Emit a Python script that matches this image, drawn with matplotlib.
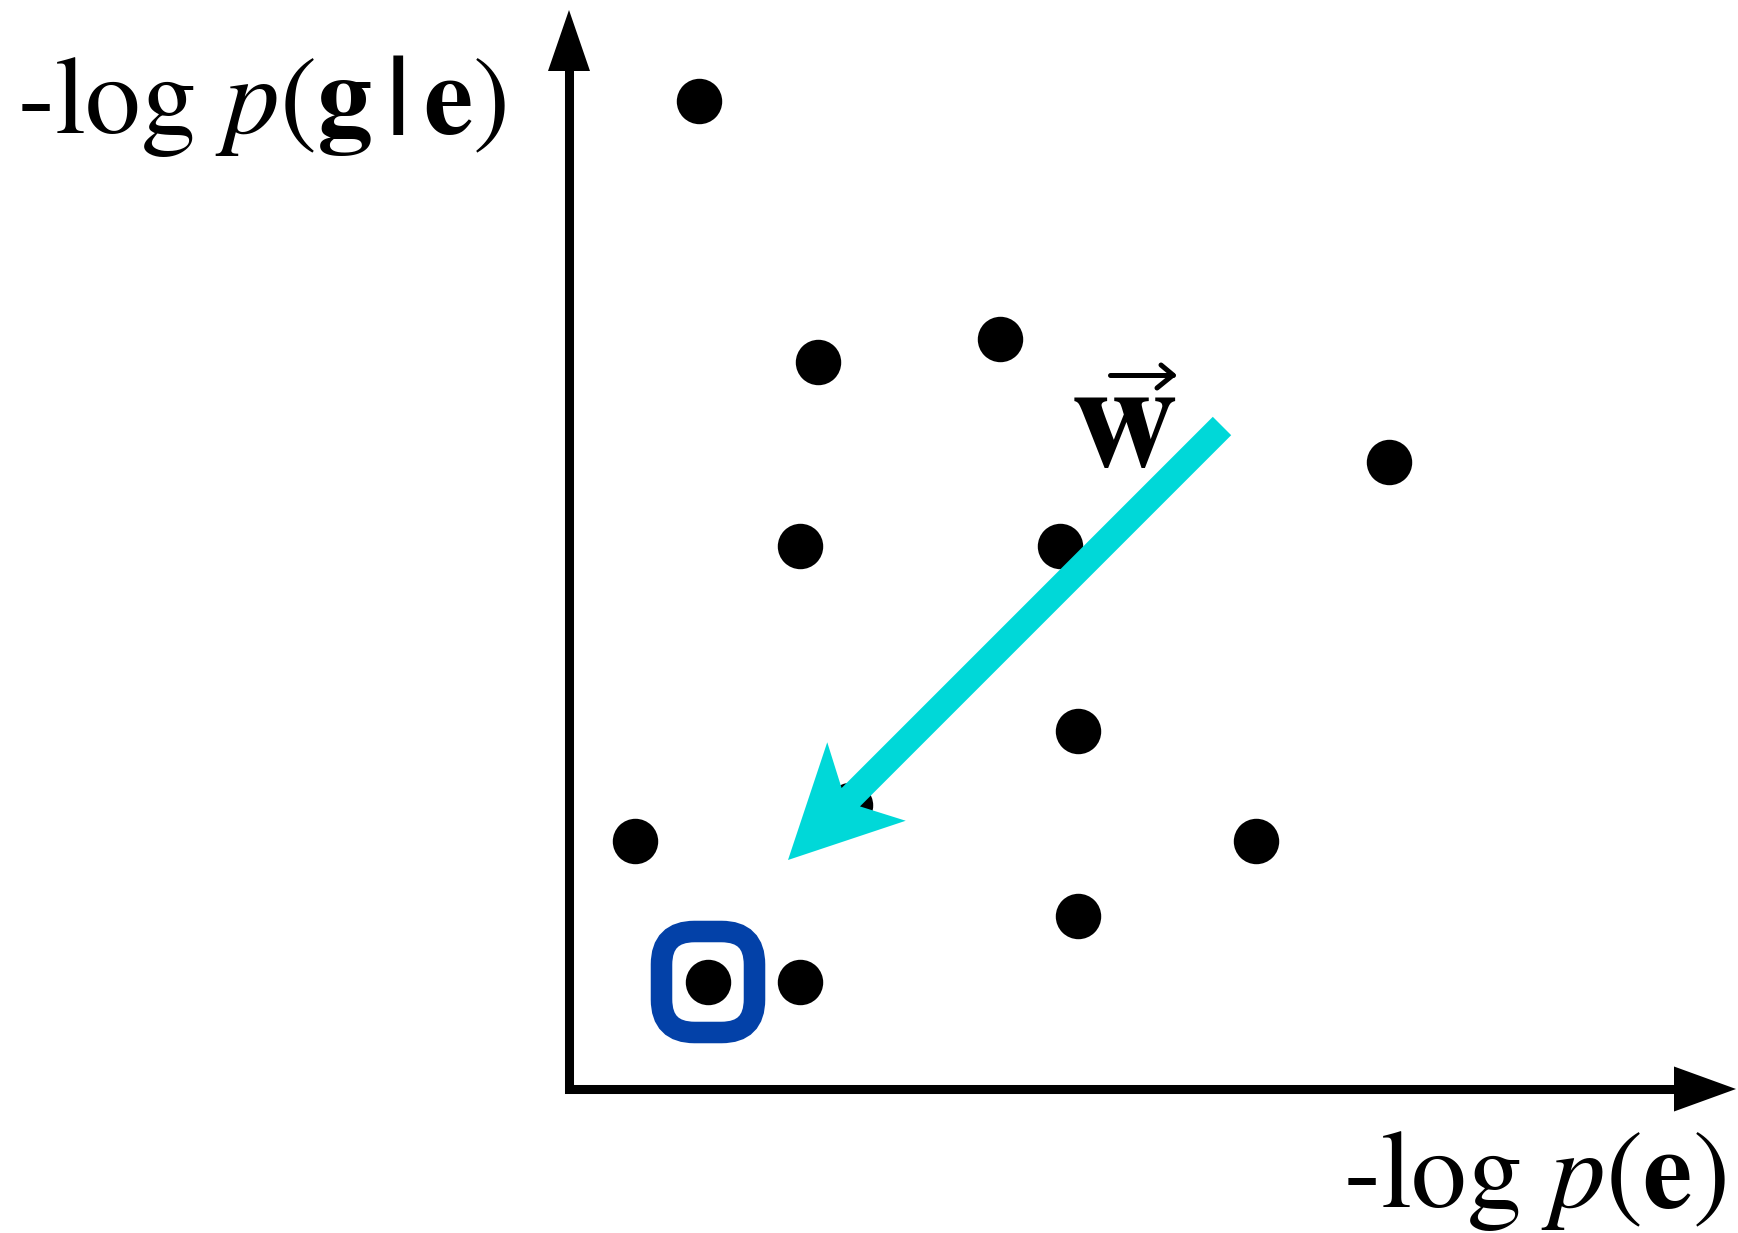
import matplotlib
matplotlib.use("Agg")
import matplotlib.pyplot as plt
from matplotlib.patches import FancyArrow, FancyBboxPatch

# Times-like look: STIX ships with matplotlib
plt.rcParams["font.family"] = ["STIXGeneral", "Liberation Serif", "DejaVu Serif"]
plt.rcParams["mathtext.fontset"] = "stix"

# candidate translations: x = -log p(e), y = -log p(g|e)
cand_x = [130, 249, 431, 820, 231, 491, 509, 281, 66, 687, 509, 139, 231]
cand_y = [988, 727, 750, 627, 543, 543, 358, 284, 248, 248, 173, 107, 107]
best_idx = 11  # the boxed one

# direction of the weight vector w
w_start = (653, 663)
w_end = (219, 229)

x_label = "-log $p$($\\mathbf{e}$)"
y_label = "-log $p$($\\mathbf{g}\\,\\mathbf{|}\\,\\mathbf{e}$)"

BLACK = "#000000"
CYAN = "#00D8D8"
BLUE = "#0341A8"

fig = plt.figure(figsize=(17.38, 12.33), dpi=100)
ax = fig.add_axes([0, 0, 1, 1])
ax.set_xlim(-569, 1169)
ax.set_ylim(-144, 1089)
ax.axis("off")

# axes: one polyline through the origin, then the two heads
ax.plot([0, 0, 1110], [1020, 0, 0], color=BLACK, lw=6.5,
        solid_joinstyle="miter", solid_capstyle="butt", zorder=1)
ax.add_patch(FancyArrow(0, 1018, 0, 61, width=0, head_width=42, head_length=61,
                        length_includes_head=True, color=BLACK, lw=0, zorder=1))
ax.add_patch(FancyArrow(1105, 0, 62, 0, width=0, head_width=45, head_length=62,
                        length_includes_head=True, color=BLACK, lw=0, zorder=1))

ax.scatter(cand_x, cand_y, s=1070, color=BLACK, linewidths=0, zorder=2)

# box around the best candidate
bw, bh = 93, 101
ax.add_patch(FancyBboxPatch((cand_x[best_idx] - bw / 2, cand_y[best_idx] - bh / 2), bw, bh,
                            boxstyle="round,pad=0,rounding_size=33", fill=False,
                            ec=BLUE, lw=15.5, zorder=3))

# weight vector arrow
ax.add_patch(FancyArrow(w_start[0], w_start[1], w_end[0] - w_start[0], w_end[1] - w_start[1],
                        width=26, head_width=111, head_length=111, overhang=0.2,
                        length_includes_head=True, color=CYAN, lw=0, zorder=4))

# w with vector arrow on top
wx, wy = 502, 623
ax.text(wx, wy, "w", fontsize=106, fontweight="bold", ha="left", va="baseline", zorder=5)
ax.plot([wx + 39, wx + 102], [wy + 91, wy + 91], color=BLACK, lw=3.6,
        solid_capstyle="round", zorder=5)
ax.plot([wx + 90, wx + 102, wx + 86], [wy + 101, wy + 91, wy + 78], color=BLACK, lw=3.6,
        solid_capstyle="round", solid_joinstyle="round", zorder=5)

ax.text(-552, 956, y_label, fontsize=80, ha="left", va="baseline")
ax.text(774, -118, x_label, fontsize=80, ha="left", va="baseline")

fig.savefig("out.png", dpi=100, facecolor="white")
